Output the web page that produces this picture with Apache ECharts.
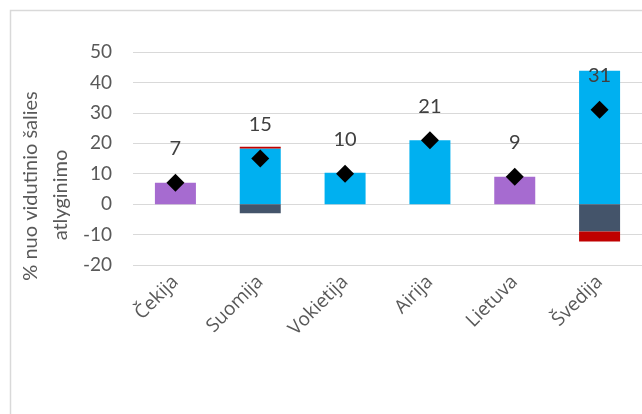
<!DOCTYPE html>
<html>
<head>
<meta charset="utf-8">
<script src="https://cdn.jsdelivr.net/npm/echarts@6/dist/echarts.min.js"></script>
<style>
  html, body { margin: 0; padding: 0; background: #fff; }
  #chart { width: 642px; height: 414px; }
</style>
</head>
<body>
<div id="chart"></div>
<script>
// Countries on the category axis
const categories = ['Čekija', 'Suomija', 'Vokietija', 'Airija', 'Lietuva', 'Švedija'];

// Stacked components, % of the national average wage
const purpleValues = [7, null, null, null, 9, null];
const blueValues = [null, 18.3, 10.3, 21, null, 43.8];
const darkValues = [null, -3, null, null, null, -9];
const redValues = [null, 0.6, null, null, null, -3.3];

// Net value shown as a diamond with its label
const netValues = [7, 15, 10, 21, 9, 31];

// Value axis range
const yMin = -20;
const yMax = 50;
const yStep = 10;

const FONT = 'Lato';
const chart = echarts.init(document.getElementById('chart'), null, { renderer: 'canvas' });

function barSeries(name, data, color) {
  return {
    name: name,
    type: 'bar',
    stack: 'total',
    data: data,
    barWidth: 41,
    itemStyle: { color: color },
    emphasis: { disabled: true },
    animation: false
  };
}

chart.setOption({
  animation: false,
  grid: { left: 133, top: 52, width: 510, height: 213, containLabel: false },
  xAxis: {
    type: 'category',
    data: categories,
    axisLine: { show: false },
    axisTick: { show: false },
    axisLabel: {
      rotate: 45,
      margin: 14,
      fontFamily: 'Open Sans',
      fontSize: 19,
      color: '#595959'
    },
    splitLine: { show: false }
  },
  yAxis: {
    type: 'value',
    min: yMin,
    max: yMax,
    interval: yStep,
    axisLine: { show: false },
    axisTick: { show: false },
    axisLabel: {
      margin: 21,
      fontFamily: FONT,
      fontSize: 19,
      color: '#595959'
    },
    splitLine: { lineStyle: { color: '#D9D9D9', width: 1 } }
  },
  series: [
    barSeries('purple', purpleValues, '#A66BD0'),
    barSeries('blue', blueValues, '#00B0F0'),
    barSeries('dark', darkValues, '#44546A'),
    barSeries('red', redValues, '#C00000'),
    {
      name: 'net',
      type: 'scatter',
      data: netValues,
      symbol: 'diamond',
      symbolSize: 18,
      itemStyle: { color: '#000000', opacity: 1 },
      z: 5,
      label: {
        show: true,
        position: 'top',
        distance: 15,
        fontFamily: FONT,
        fontSize: 20,
        color: '#404040',
        formatter: function (p) { return String(p.value); }
      },
      emphasis: { disabled: true }
    }
  ],
  graphic: [
    {
      type: 'rect',
      shape: { x: 10.5, y: 10.5, width: 700, height: 500 },
      style: { fill: 'none', stroke: '#D9D9D9', lineWidth: 1.5 },
      silent: true
    },
    {
      type: 'text',
      x: 31,
      y: 186,
      rotation: Math.PI / 2,
      style: {
        text: '% nuo vidutinio šalies',
        fontFamily: FONT,
        fontSize: 20,
        fill: '#595959',
        align: 'center',
        verticalAlign: 'middle'
      },
      silent: true
    },
    {
      type: 'text',
      x: 61,
      y: 195,
      rotation: Math.PI / 2,
      style: {
        text: 'atlyginimo',
        fontFamily: FONT,
        fontSize: 20,
        fill: '#595959',
        align: 'center',
        verticalAlign: 'middle'
      },
      silent: true
    }
  ]
});
</script>
</body>
</html>
